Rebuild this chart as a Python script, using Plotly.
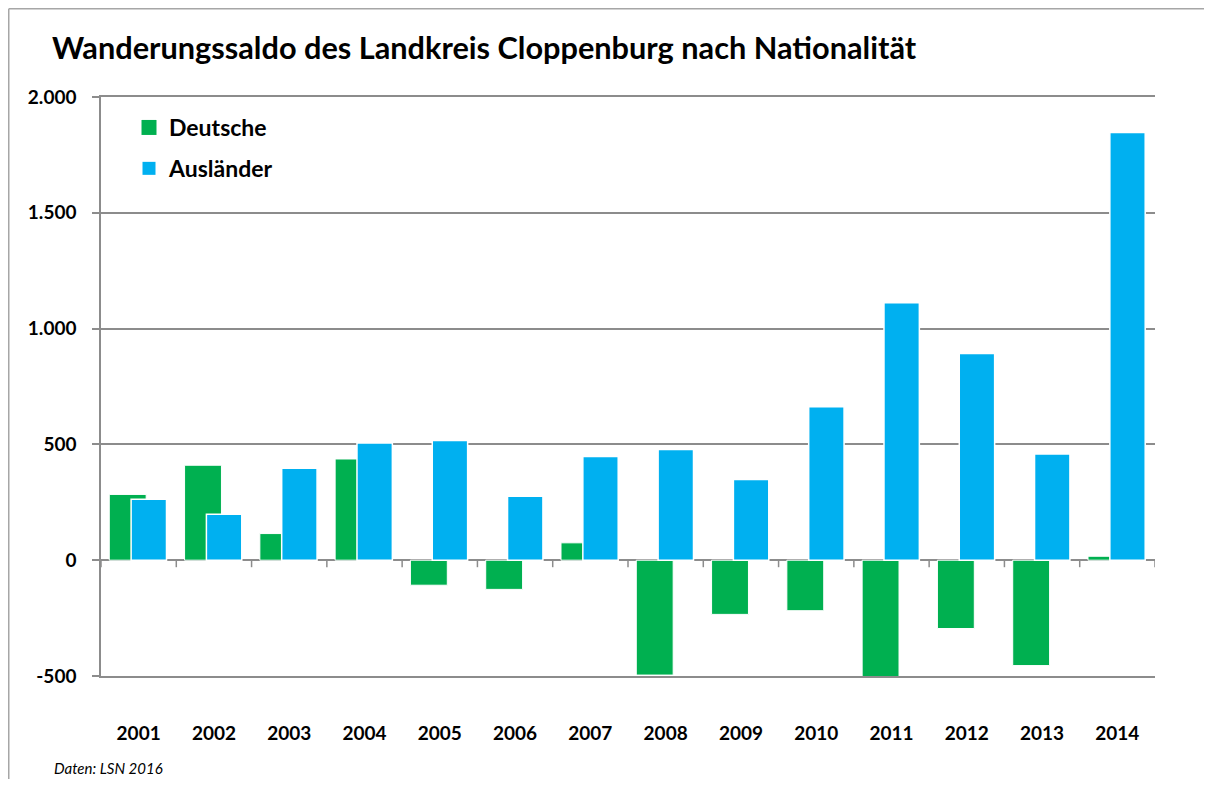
import plotly.graph_objects as go

years = ["2001", "2002", "2003", "2004", "2005", "2006", "2007",
         "2008", "2009", "2010", "2011", "2012", "2013", "2014"]
deutsche = [284, 410, 115, 437, -108, -126, 75, -496, -234, -218, -505, -295, -455, 17]
auslaender = [263, 198, 397, 506, 517, 276, 448, 478, 348, 663, 1112, 893, 459, 1847]
y_ticks = [-500, 0, 500, 1000, 1500, 2000]
y_tick_labels = ["-500", "0", "500", "1.000", "1.500", "2.000"]

GREEN = "#00B050"
BLUE = "#00B0F0"
GRID = "#8C8C8C"
FONT = "Lato"

OFF = 8  # page offset of the figure (body margin)
W, H = 1212 - 2 * OFF, 787 - 2 * OFF  # avoid page scrollbars
# plot area in screen pixels: x 101..1155, y 97..676
L, T = 101 - OFF, 97 - OFF
R = W - (1155 - OFF)
B = H - (676 - OFF)
pw, ph = W - L - R, H - T - B


def px_x(sx):
    return (sx - OFF - L) / pw


def px_y(sy):
    return (H - B - (sy - OFF)) / ph


fig = go.Figure()
fig.add_trace(go.Bar(
    x=years, y=deutsche, name="Deutsche", marker_color=GREEN,
    marker_line=dict(color="white", width=1), width=0.49, offset=-0.39,
    showlegend=False))
fig.add_trace(go.Bar(
    x=years, y=auslaender, name="Ausländer", marker_color=BLUE,
    marker_line=dict(color="white", width=1.5), width=0.47, offset=-0.10,
    showlegend=False))

# legend entries
fig.add_trace(go.Scatter(x=[None], y=[None], mode="markers", name="Deutsche",
                         marker=dict(symbol="square", size=15, color=GREEN),
                         legendgroup="d"))
fig.add_trace(go.Scatter(x=[None], y=[None], mode="markers", name="Ausländer",
                         marker=dict(symbol="square", size=13, color=BLUE),
                         legendgroup="a"))

shapes = []
# tick marks on the zero line at category boundaries
for i in range(len(years) + 1):
    shapes.append(dict(type="line", xref="x", yref="y", x0=i - 0.5, x1=i - 0.5,
                       ysizemode="pixel", yanchor=0, y0=0, y1=-7,
                       line=dict(color=GRID, width=1.5)))
# outer frame (only top and left edges are visible)
FRAME = dict(color="#A6A6A6", width=1.5)
shapes.append(dict(type="line", xref="paper", yref="paper",
                   x0=px_x(8.75), x1=px_x(1240), y0=px_y(8.75), y1=px_y(8.75),
                   line=FRAME, layer="above"))
shapes.append(dict(type="line", xref="paper", yref="paper",
                   x0=px_x(8.75), x1=px_x(8.75), y0=px_y(8.75), y1=px_y(820),
                   line=FRAME, layer="above"))

fig.update_layout(
    width=W, height=H,
    margin=dict(l=L, r=R, t=T, b=B),
    paper_bgcolor="white", plot_bgcolor="white",
    barmode="overlay",
    separators=",.",
    font=dict(family=FONT, color="black"),
    title=dict(text="Wanderungssaldo des Landkreis Cloppenburg nach Nationalität",
               font=dict(family=FONT, size=30.7, weight="bold", color="black"),
               x=(52 - OFF) / W, xanchor="left", y=1 - (48 - OFF) / H, yanchor="middle"),
    legend=dict(x=px_x(129), y=px_y(106), xanchor="left", yanchor="top",
                font=dict(family=FONT, size=23, weight="bold", color="black"),
                tracegroupgap=8, bgcolor="rgba(0,0,0,0)"),
    xaxis=dict(type="category", categoryorder="array", categoryarray=years,
               range=[-0.5, len(years) - 0.5],
               showgrid=False, zeroline=False,
               showline=True, mirror=True, linecolor=GRID, linewidth=1.5,
               ticks="", ticklabelstandoff=39,
               tickfont=dict(family=FONT, size=19, weight="bold", color="black")),
    yaxis=dict(range=[-500, 2000], tickvals=y_ticks, ticktext=y_tick_labels,
               showgrid=True, gridcolor=GRID, gridwidth=1.5,
               zeroline=True, zerolinecolor=GRID, zerolinewidth=1.5,
               showline=True, linecolor=GRID, linewidth=1.5,
               ticks="outside", ticklen=7, tickcolor=GRID, tickwidth=1.5,
               ticklabelstandoff=12,
               tickfont=dict(family=FONT, size=19, weight="bold", color="black")),
    shapes=shapes,
    annotations=[dict(text="Daten: LSN 2016", xref="paper", yref="paper",
                      x=px_x(52), y=px_y(768),
                      xanchor="left", yanchor="middle", showarrow=False,
                      font=dict(family=FONT, size=15, style="italic", color="black"))],
)

fig.write_html("out.html")
